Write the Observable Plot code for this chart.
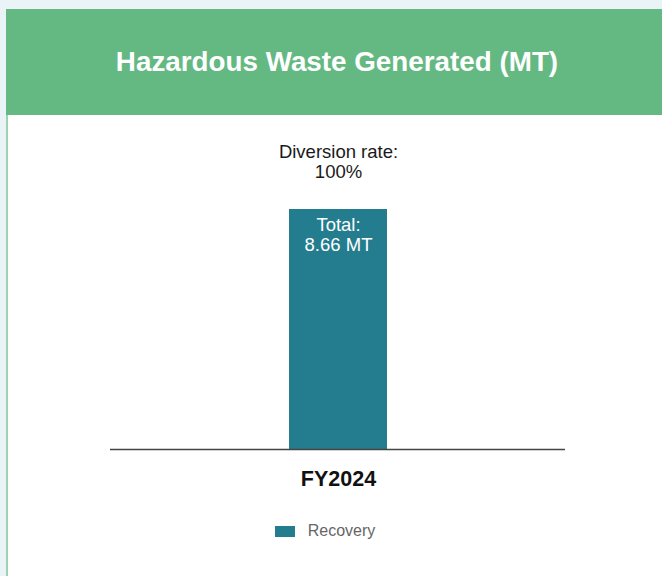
<!DOCTYPE html>
<html>
<head>
<meta charset="utf-8">
<script src="https://cdn.jsdelivr.net/npm/d3@7"></script>
<script src="https://cdn.jsdelivr.net/npm/@observablehq/plot@0.6"></script>
<style>
  html, body { margin: 0; padding: 0; }
  body { width: 662px; height: 576px; background: #eaf3f5; overflow: hidden; position: relative; font-family: "Liberation Sans", Arial, sans-serif; }
  #card { position: absolute; left: 6px; top: 9px; width: 700px; height: 600px; background: #fff; border-left: 2px solid #9dd3ae; box-sizing: border-box; }
  #header { position: absolute; left: 6px; top: 9px; width: 700px; height: 106px; background: #64b983; }
  #title { position: absolute; left: 0; top: 47px; width: 674px; text-align: center; color: #fff; font-weight: bold; font-size: 27.8px; line-height: 30px; }
  #chart { position: absolute; left: 0; top: 115px; }
  #legend { position: absolute; left: 0; top: 522px; width: 650px; display: flex; justify-content: center; align-items: center; font-size: 16px; color: #666; }
  #legend .sw { width: 20px; height: 11px; margin-right: 13px; }
</style>
</head>
<body>
<div id="card"></div>
<div id="header"></div>
<div id="title">Hazardous Waste Generated (MT)</div>
<div id="chart"></div>
<div id="legend"></div>
<script>
const categories = ["FY2024"];
const recovery = [8.66];
const diversionRate = ["100%"];
const seriesName = "Recovery";
const seriesColor = "#247d8f";

const data = categories.map((c, i) => ({
  year: c,
  value: recovery[i],
  total: `Total:\n${recovery[i].toFixed(2)} MT`,
  rate: `Diversion rate:\n${diversionRate[i]}`
}));

const chart = Plot.plot({
  width: 662,
  height: 390,
  marginTop: 94,
  marginBottom: 56,
  marginLeft: 110,
  marginRight: 97,
  style: { fontFamily: "Liberation Sans, Arial, sans-serif", background: "transparent", overflow: "visible" },
  x: { domain: categories, paddingInner: 0, paddingOuter: 1.8, label: null },
  y: { domain: [0, d3.max(recovery)], axis: null },
  marks: [
    Plot.barY(data, { x: "year", y: "value", fill: seriesColor }),
    Plot.ruleY([0], { stroke: "#444", strokeWidth: 1.6 }),
    Plot.text(data, { x: "year", y: "value", text: "rate", dy: -65, fill: "#1a1a1a", fontSize: 18.5, lineHeight: 1.05, lineAnchor: "top" }),
    Plot.text(data, { x: "year", y: "value", text: "total", dy: 8, fill: "#ffffff", fontSize: 18.5, lineHeight: 1.05, lineAnchor: "top" }),
    Plot.axisX({ tickSize: 0, tickPadding: 21, fontSize: 21.5, fontWeight: "bold", fill: "#111", label: null })
  ]
});
document.getElementById("chart").appendChild(chart);

const legend = document.getElementById("legend");
legend.innerHTML = `<div class="sw" style="background:${seriesColor}"></div><span>${seriesName}</span>`;
</script>
</body>
</html>
